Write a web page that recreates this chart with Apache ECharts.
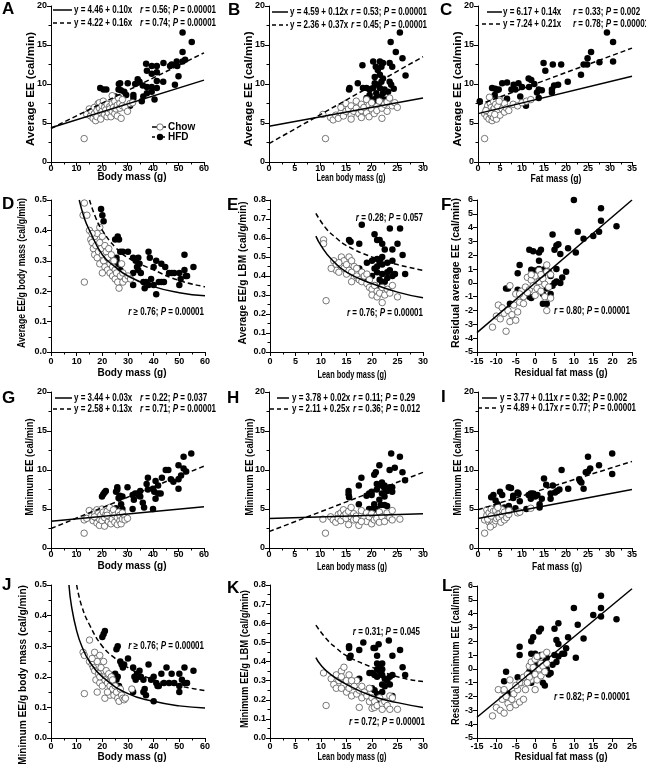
<!DOCTYPE html>
<html>
<head>
<meta charset="utf-8">
<script src="https://cdn.jsdelivr.net/npm/echarts@6/dist/echarts.min.js"></script>
<style>
  html, body { margin: 0; padding: 0; background: #fff; }
  #chart { width: 646px; height: 764px; }
</style>
</head>
<body>
<div id="chart"></div>
<script>
// ---- data: [x, y] pairs ----
// A: body mass vs average EE
const chowA = [[14,6.1],[15,6.8],[15.5,5.9],[16,6.5],[16.5,5.6],[17,7.0],[17,6.2],[17.5,5.3],[18,6.6],[18,5.8],[18.5,7.5],[19,7.6],[19,6.9],[19.5,6.3],[19.5,5.5],[20,7.2],[20,6.5],[20.5,7.8],[21,6.1],[21,7.0],[21.5,6.7],[22,7.4],[22,5.8],[22.5,6.3],[23,7.1],[23,6.8],[23.5,5.8],[24,7.5],[24,6.5],[24.5,7.0],[25,6.2],[25,7.8],[25.5,6.8],[26,5.9],[26,7.3],[26.5,8.2],[27,7.5],[27,6.9],[27.5,5.6],[28,7.2],[28,8.0],[29,7.0],[30,6.5],[31,7.5],[32,7.6],[24,8.5],[13,3.0]]
const hfdA = [[19.3,9.5],[20.6,9.3],[21.7,9.3],[26.5,9.3],[27.1,10.1],[26.6,10.0],[30.1,10.1],[33,10.0],[34,10.6],[34.7,10.3],[36,9.8],[37.6,9.6],[39.5,9.6],[41.5,10.4],[44,10.3],[39.5,11.3],[41.5,11.5],[37.6,11.7],[39.5,12.3],[41.5,12.3],[44.1,12.7],[46.7,12.3],[47.3,12.5],[49.3,12.9],[49.5,12.3],[51.6,12.9],[52.6,13.1],[50,11.0],[25.2,8.4],[26.5,8.3],[27.4,9.2],[25.6,8.0],[26.1,7.8],[25.2,7.5],[31,7.2],[32.3,8.2],[35.6,7.8],[36.2,8.4],[37.6,8.8],[39.5,9.0],[41.5,9.5],[40.6,8.0],[32.3,8.6],[29.5,8.6],[28.7,9.0],[48.6,9.9],[51.6,16.6],[55.2,15.4],[51.6,14.1],[37.3,12.6]]
const solidA = [[0,4.4],[60,10.5]]
const dashA = [[0,4.3],[60,14.0]]

// B: lean body mass vs average EE
const chowB = [[10.5,6.1],[12,5.7],[12.5,5.4],[13,6.0],[13.5,5.6],[14,6.3],[14,7.0],[14.5,5.9],[15,6.5],[15,7.5],[15.5,6.8],[16,6.0],[16,7.2],[16.5,6.5],[17,7.8],[17,6.9],[17.5,6.2],[18,7.4],[18,6.6],[18.5,7.0],[19,8.0],[19,6.3],[19.5,7.3],[19.5,5.8],[20,6.8],[20,7.6],[20.5,6.2],[21,7.1],[21,6.6],[21.5,7.8],[22,5.6],[22,6.9],[22.5,7.4],[23,7.7],[23,6.5],[23.5,8.2],[24,7.2],[24.5,7.6],[25,7.0],[16,5.5],[18,5.7],[11,3.0]]
const hfdB = [[25.5,16.6],[23.7,15.4],[24.7,14.1],[26,13.3],[26.6,11.1],[18.2,12.4],[20.3,12.9],[21.6,12.9],[22.2,12.7],[20.8,12.2],[21.2,11.8],[21.9,12.2],[23.5,12.7],[24,12.2],[20.6,10.9],[21.6,11.2],[22.2,10.7],[20.6,10.1],[21.2,9.9],[21.9,10.3],[23.5,10.3],[23.8,9.9],[17.3,10.1],[15.7,9.5],[15.6,9.3],[19,9.5],[20.3,9.5],[21.6,9.5],[22.5,9.3],[19.6,8.6],[20.9,8.8],[22.2,8.8],[23.2,9.0],[20.9,8.2],[21.9,8.4],[20.3,8.0],[19,8.2],[19.9,7.2],[18.3,9.5],[19.6,9.3],[22.9,8.0],[21.2,7.5],[24.3,9.4]]
const solidB = [[0,4.59],[30,8.2]]
const dashB = [[0,2.36],[30,13.5]]

// C: fat mass vs average EE
const chowC = [[1.5,6.2],[2,6.8],[2,5.8],[2.2,7.2],[2.5,6.4],[2.5,5.5],[2.8,7.5],[3,6.0],[3,7.0],[3.2,5.3],[3.3,6.6],[3.5,7.8],[3.5,5.7],[3.7,6.9],[4,6.2],[4,7.4],[4.2,5.5],[4.5,6.5],[4.5,7.1],[5,6.0],[5,8.0],[5.5,6.8],[6,7.5],[6,6.4],[6.5,6.9],[7,6.6],[8,7.4],[9,7.2],[10,7.6],[11,7.8],[12,8.0],[2.8,6.3],[3.8,6.1],[1.8,6.6],[2.6,8.3],[4.8,7.8],[1.5,3.0]]
const hfdC = [[29.3,16.6],[30.7,15.4],[30.7,12.9],[27.6,12.8],[25.7,14.1],[24.9,13.3],[24,12.5],[24.8,12.5],[23.4,11.2],[20.4,10.3],[18.9,12.5],[17,12.5],[17.3,9.8],[18.2,9.9],[16.8,9.3],[16.8,8.9],[14.9,12.7],[15.3,11.7],[14.5,9.2],[13.8,9.3],[13.8,8.2],[13.4,8.9],[11.5,10.7],[12.1,10.5],[11.6,9.6],[10.9,7.2],[8.1,9.9],[8.5,9.3],[7.6,9.3],[9.6,8.4],[9.2,10.1],[6.6,10.2],[5.5,10.1],[6.6,8.1],[3.2,9.5],[3.9,9.4],[4.3,9.2],[4.7,9.3],[3.8,8.6],[3.2,8.0],[4.3,8.0],[0.4,7.8],[10,9.6],[12.8,10.0]]
const solidC = [[0,6.2],[35,11.0]]
const dashC = [[0,7.3],[35,14.6]]

// D: body mass vs average EE per g body mass
const chowD = [[13,0.49],[12.5,0.45],[14,0.45],[13,0.23],[15,0.40],[15.5,0.37],[16,0.36],[16.5,0.34],[17,0.38],[17,0.32],[17.5,0.35],[18,0.39],[18,0.31],[18.5,0.33],[19,0.41],[19,0.36],[19,0.29],[19.5,0.34],[20,0.32],[20,0.38],[20.5,0.30],[21,0.35],[21,0.28],[21.5,0.33],[22,0.31],[22,0.27],[22.5,0.34],[23,0.29],[23,0.26],[23.5,0.32],[24,0.28],[24,0.25],[24.5,0.30],[25,0.27],[25,0.24],[25.5,0.26],[26,0.23],[26.5,0.21],[27,0.25],[27.5,0.29],[28,0.26],[28,0.23],[29,0.24],[30,0.25],[31,0.24],[16,0.39],[20,0.26]]
const hfdD = [[19.5,0.47],[20,0.45],[20.5,0.43],[26,0.38],[26.5,0.37],[25,0.37],[27,0.33],[28,0.33],[30,0.33],[25.5,0.31],[25.5,0.30],[26,0.29],[27,0.27],[32,0.31],[33,0.30],[34,0.31],[34.5,0.29],[33.5,0.28],[34,0.27],[35,0.26],[32,0.26],[32,0.22],[36.5,0.21],[37,0.23],[38,0.33],[38.5,0.31],[40,0.28],[41,0.30],[43,0.29],[44.5,0.28],[46,0.26],[47,0.26],[48,0.26],[50,0.26],[50,0.22],[50.5,0.24],[52,0.32],[52,0.27],[52.5,0.25],[53,0.25],[55.5,0.28],[40,0.22],[41,0.19],[42,0.23],[43,0.23],[44,0.23],[39,0.24],[38,0.22],[36,0.23]]
const solidD = [[11,0.50],[13,0.44],[15,0.40],[20,0.32],[25,0.28],[30,0.25],[40,0.215],[50,0.195],[60,0.185]]
const dashD = [[15,0.50],[17.5,0.44],[20,0.40],[25,0.345],[30,0.31],[40,0.27],[50,0.235],[60,0.215]]

// E: lean body mass vs average EE per g LBM
const chowE = [[10.5,0.59],[10.5,0.57],[11,0.27],[12.5,0.48],[13,0.46],[13,0.43],[13.5,0.42],[14,0.50],[14,0.45],[14.5,0.44],[14.5,0.48],[15,0.41],[15,0.46],[15.5,0.50],[15.5,0.43],[16,0.42],[16,0.48],[16.5,0.39],[16.5,0.45],[17,0.44],[17,0.40],[17.5,0.38],[18,0.42],[18,0.37],[18.5,0.40],[19,0.36],[19,0.41],[19.5,0.34],[19.5,0.38],[20,0.33],[20,0.30],[20.5,0.35],[21,0.32],[21,0.29],[21.5,0.31],[22,0.34],[22,0.26],[22.5,0.30],[23,0.33],[23.5,0.31],[24,0.35],[25,0.29],[12,0.44],[16,0.37],[13.5,0.47]]
const hfdE = [[18,0.67],[15.5,0.59],[15.8,0.58],[17.5,0.57],[20.5,0.62],[21,0.59],[21.5,0.59],[22,0.57],[23.5,0.65],[25.5,0.65],[24,0.54],[22.5,0.54],[25,0.57],[26,0.51],[20,0.48],[21,0.49],[22,0.50],[21,0.45],[20.5,0.44],[22,0.46],[23,0.47],[24,0.48],[20,0.40],[21,0.42],[22,0.41],[21.5,0.38],[22.5,0.37],[23,0.42],[23.5,0.43],[24,0.40],[20.5,0.35],[21,0.34],[22,0.36],[26.5,0.41],[17.5,0.44],[18.5,0.38],[23,0.39],[24.5,0.41],[19,0.47],[21.5,0.47]]
const solidE = [[9,0.61],[10,0.56],[12,0.49],[15,0.42],[20,0.36],[25,0.315],[30,0.285]]
const dashE = [[9,0.73],[11,0.65],[13,0.60],[15,0.56],[20,0.50],[25,0.46],[30,0.43]]

// F: residual fat mass vs residual average EE
const chowF = [[-11,-3.2],[-10,-2.4],[-9.5,-1.6],[-9,-2.6],[-8.5,-1.8],[-8,-2.2],[-7.5,-3.5],[-7,-2.0],[-6.5,-2.8],[-6,-2.3],[-5.5,-1.6],[-5,-2.7],[-4.5,-2.1],[-4,-1.4],[-5,-0.8],[-3.5,-0.6],[-3,-1.0],[-2.5,-0.3],[-2,0.4],[-1.5,-0.5],[-1,0.2],[-0.5,-0.2],[0,0.5],[0.5,-0.4],[1,0.1],[1,0.9],[1.5,-0.6],[2,0.3],[2.5,-0.1],[3,0.8],[3,1.3],[3.5,-0.3],[4,0.6],[2.5,-1.0],[-6.5,-0.2],[-4,-0.8],[-2,-0.7],[0,-0.9],[1.5,0.6],[3,-2.0],[-1,0.6],[4,-1.1],[-3,-1.5]]
const hfdF = [[10,6.0],[17,5.4],[17,4.5],[21,4.1],[11,3.7],[16.5,3.7],[15,3.4],[12.5,3.2],[4.5,3.5],[6,2.8],[5.5,2.7],[5,2.4],[6.5,2.1],[8.5,2.5],[10.5,2.2],[-1.5,2.4],[-0.5,2.3],[1,2.2],[1.5,2.4],[1,1.6],[-4,1.3],[-1,0.95],[0,0.9],[1,1.0],[2,0.6],[2.5,1.0],[3.5,0.8],[4,0.5],[8,0.8],[-4.5,0.7],[-7.5,-0.4],[-7,-0.4],[-4.5,-0.5],[-1.5,-1.0],[-1,-1.1],[2,-0.8],[3,-0.4],[4,-0.8],[4.5,-0.2],[5.5,0.1],[5,0],[7,0.4],[6.5,0],[2,-1.5],[3,-1.5],[-6.5,-1.5],[1.5,0.2],[5.5,1.0]]
const solidF = [[-15,-3.6],[25,6.0]]

// G: body mass vs minimum EE
const chowG = [[13,1.9],[13,3.6],[14,3.8],[15,4.8],[16,4.1],[16.5,3.5],[17,4.6],[17.5,3.9],[18,3.2],[18,4.9],[18.5,4.4],[19,3.7],[19,2.9],[19.5,4.2],[20,5.0],[20,3.5],[20.5,4.6],[21,2.8],[21,3.9],[21.5,4.3],[22,4.7],[22.5,3.4],[23,4.0],[23,5.2],[23.5,3.1],[24,4.5],[24,3.7],[24.5,4.9],[25,3.3],[25,4.2],[26,3.9],[26,3.0],[26.5,4.6],[27,3.5],[27,4.2],[27.5,3.1],[28,4.5],[28,3.7],[29,4.0],[29,3.6],[30,3.8],[17,4.0],[22,4.2]]
const hfdG = [[20,6.6],[20.5,6.9],[21,7.1],[21.5,7.3],[26,7.8],[26,7.5],[25.5,7.2],[26.5,6.4],[27,6.7],[28,6.6],[27.5,5.6],[28,5.0],[25.5,5.1],[26,4.3],[30,7.8],[32,6.8],[32.5,6.2],[33,7.0],[34,7.0],[34.5,6.7],[35,6.6],[35,7.3],[36,5.8],[36.5,5.2],[37.5,8.2],[38,9.0],[40,7.6],[40.5,7.2],[41,6.3],[41,8.6],[42,8.0],[43,7.0],[43.5,9.0],[45,10.0],[46,10.0],[47,8.8],[48,8.5],[50,10.6],[50,8.8],[50,7.6],[51,9.3],[52,11.7],[52,10.2],[53,9.8],[55,12.1],[40,5.0],[32,5.0],[38,7.5],[42,7.0]]
const solidG = [[0,3.44],[60,5.3]]
const dashG = [[0,2.5],[60,10.5]]

// H: lean body mass vs minimum EE
const chowH = [[10.5,3.7],[11,1.9],[12,4.0],[12.5,3.6],[13,3.3],[13.5,4.3],[13.5,3.8],[14,4.5],[14,3.5],[14.5,4.1],[14.5,4.9],[15,3.8],[15,4.4],[15.5,3.0],[15.5,4.7],[16,4.0],[16,5.2],[16.5,3.6],[16.5,4.4],[17,4.1],[17,3.7],[17.5,2.9],[18,4.2],[18,4.8],[18.5,3.9],[19,4.5],[19,3.4],[19.5,4.0],[20,3.1],[20,4.4],[20.5,3.6],[21,4.2],[21,3.8],[21.5,4.6],[21.5,3.3],[22,4.0],[22.5,3.4],[23,4.5],[23.5,3.9],[24,3.6],[24,4.8],[25.5,3.7],[18,3.4]]
const hfdH = [[15.5,7.3],[15.5,6.9],[15.6,6.5],[17.5,8.0],[18,9.0],[17.5,5.6],[19,6.7],[19.5,7.0],[20,5.0],[20,6.8],[20.5,9.4],[20.8,9.7],[21,8.2],[21,7.5],[21.5,10.6],[21.5,8.0],[21.5,6.2],[21.8,5.5],[22,8.4],[22,7.0],[22.5,8.0],[22.5,7.7],[22.5,6.6],[23,7.3],[23,5.4],[23.5,7.8],[23.5,10.0],[23.8,12.1],[24,7.2],[24,7.8],[24.5,10.3],[25.5,11.7],[26,9.7],[26.5,8.7],[20.5,5.6],[21,5.0],[21.5,4.3],[22.5,5.5],[19.5,5.0],[20,7.2]]
const solidH = [[0,3.78],[30,4.38]]
const dashH = [[0,2.1],[30,9.7]]

// I: fat mass vs minimum EE
const chowI = [[1.5,1.9],[1.5,3.6],[2,4.2],[2,4.9],[2.5,3.3],[2.5,4.5],[2.8,3.9],[3,2.9],[3,5.0],[3.2,3.5],[3.5,4.7],[3.5,3.0],[3.8,4.1],[4,3.5],[4,4.8],[4.2,3.8],[4.5,4.3],[4.8,3.9],[5,4.5],[5,5.1],[5.2,3.3],[5.5,4.9],[5.5,4.2],[6,4.6],[6,3.6],[6.5,3.9],[7,4.3],[7,4.8],[9,4.5],[9.5,4.6],[12,5.1],[2.2,3.7],[3,4.1],[4.5,5.2],[2.8,2.7]]
const hfdI = [[3,6.5],[3.5,6.8],[3.5,4.3],[4,5.1],[4,6.1],[4.5,5.6],[5,7.2],[5.5,6.8],[7,7.8],[7.5,7.7],[6,5.2],[7,5.4],[8,6.4],[8,6.7],[8.5,5.1],[9,7.1],[9.5,6.0],[9.2,7.0],[11,5.0],[11.5,6.8],[12,6.3],[12.5,7.0],[13,6.6],[13.5,6.8],[14,5.6],[14,5.2],[14.5,6.3],[15,8.9],[15.5,8.1],[16.5,6.3],[16.5,7.0],[17,8.0],[17.5,7.1],[18,7.3],[18.5,7.5],[19,10.0],[20.5,7.6],[23,8.8],[23.5,8.4],[24,7.6],[24.5,9.7],[25,9.8],[25,11.7],[25.5,10.2],[27.5,10.6],[30.5,12.1],[30.5,9.5],[23.2,8.6],[12,7.0]]
const solidI = [[0,3.77],[35,7.5]]
const dashI = [[0,4.9],[35,11.1]]

// J: body mass vs minimum EE per g body mass
const chowJ = [[12.5,0.28],[13,0.27],[13,0.145],[15,0.32],[15,0.25],[16,0.24],[16.5,0.23],[17,0.28],[17,0.22],[17.5,0.26],[17.5,0.19],[18,0.25],[18,0.15],[18.5,0.21],[19,0.27],[19,0.18],[19.5,0.23],[20,0.20],[20,0.17],[20.5,0.25],[21,0.19],[21,0.13],[21.5,0.22],[22,0.18],[22.5,0.21],[23,0.17],[23,0.14],[23.5,0.20],[24,0.16],[24,0.19],[24.5,0.14],[25,0.17],[25.5,0.15],[26,0.13],[26.5,0.12],[27,0.16],[27.5,0.14],[28,0.13],[28.5,0.125],[29,0.13],[31.5,0.16],[16,0.26],[19,0.20],[22,0.15]]
const hfdJ = [[20,0.33],[20.5,0.34],[21,0.35],[25.5,0.29],[26,0.30],[25,0.21],[26,0.20],[26.5,0.17],[27,0.25],[27.5,0.24],[28,0.23],[28.5,0.24],[30,0.26],[32,0.23],[32.5,0.20],[33,0.19],[33.5,0.21],[34,0.20],[34.5,0.22],[35,0.20],[36,0.19],[36,0.15],[36.5,0.16],[37,0.14],[38,0.24],[39,0.19],[40,0.20],[40,0.12],[41,0.18],[41.5,0.17],[42,0.17],[43,0.21],[44,0.18],[45,0.23],[46,0.18],[47,0.21],[48,0.18],[50,0.21],[50,0.17],[50,0.15],[51,0.19],[52,0.23],[52,0.18],[53,0.18],[55.5,0.22],[25.5,0.19],[32,0.15]]
const solidJ = [[7,0.50],[8,0.43],[10,0.35],[12,0.30],[15,0.25],[20,0.20],[30,0.145],[40,0.12],[50,0.105],[60,0.098]]
const dashJ = [[10,0.50],[12,0.43],[15,0.37],[20,0.30],[25,0.26],[30,0.23],[40,0.19],[50,0.17],[60,0.155]]

// K: lean body mass vs minimum EE per g LBM
const chowK = [[10.5,0.34],[11,0.17],[12,0.31],[12.5,0.28],[13,0.26],[13,0.33],[13.5,0.30],[14,0.35],[14,0.32],[14.5,0.37],[14.5,0.28],[15,0.30],[15,0.24],[15.5,0.33],[15.5,0.26],[16,0.29],[16,0.22],[16.5,0.27],[17,0.30],[17,0.23],[17.5,0.25],[17.5,0.16],[18,0.27],[18,0.21],[18.5,0.24],[19,0.22],[19.5,0.26],[19.5,0.19],[20,0.155],[20,0.21],[20.5,0.19],[20.5,0.16],[21,0.17],[21.5,0.21],[22,0.18],[22,0.15],[22.5,0.19],[23,0.17],[23.5,0.22],[23.5,0.15],[24,0.21],[25,0.15],[14,0.26],[16,0.30]]
const hfdK = [[15.5,0.47],[15.5,0.48],[15.8,0.43],[15.6,0.42],[17.5,0.31],[17.5,0.46],[18.3,0.50],[20.3,0.47],[20.6,0.47],[21.3,0.49],[23.3,0.51],[24,0.43],[25.5,0.46],[26,0.37],[26.5,0.33],[21,0.43],[21,0.39],[21.5,0.37],[22,0.39],[22,0.36],[20,0.34],[20.5,0.33],[21,0.32],[21.5,0.35],[22,0.33],[22.5,0.31],[20,0.26],[20.5,0.25],[21,0.23],[21.5,0.20],[22,0.28],[22.5,0.27],[23,0.30],[23.5,0.32],[23.5,0.28],[24,0.33],[24,0.22],[19.5,0.34],[21,0.36],[22,0.24]]
const solidK = [[9,0.42],[10,0.38],[12,0.33],[15,0.28],[20,0.22],[25,0.185],[30,0.16]]
const dashK = [[9,0.59],[11,0.52],[13,0.47],[15,0.43],[20,0.37],[25,0.32],[30,0.295]]

// L: residual fat mass vs residual minimum EE
const chowL = [[-11,-3.4],[-10,-2.8],[-9.5,-1.5],[-9,-3.0],[-8.5,-2.2],[-8,-1.6],[-8,-3.2],[-7.5,-2.0],[-7,-2.5],[-6.5,-2.8],[-6,-2.2],[-5.5,-1.8],[-5,-2.6],[-4.5,-1.5],[-4,-2.4],[-3.5,-1.0],[-3,-2.2],[-3,-0.6],[-2.5,-1.5],[-2,-0.4],[-1.5,0.2],[-1,-0.8],[-1,0.5],[-0.5,0.1],[0,0.7],[0,-0.4],[0.5,-0.8],[0.5,0.9],[1,0],[1.5,0.4],[1.5,-0.5],[2,0.2],[2,1.0],[2.5,-0.2],[3,1.2],[3,0.4],[-6.5,-0.8],[-4,-1.0],[-5,-1.2],[-1.5,-0.6],[0,-1.5],[-2,-1.0],[-8,-1.5]]
const hfdL = [[17,5.3],[17,4.4],[17,3.8],[15,3.9],[21,3.6],[11,3.2],[12.5,2.2],[10,4.4],[8.5,2.3],[10.5,0.8],[6,3.3],[5,2.9],[5.5,2.1],[6,1.8],[8,1.5],[-0.5,2.3],[1,2.7],[1.5,2.9],[-1,2.0],[-4,1.6],[-4,1.0],[-1,1.1],[0,1.1],[1,0.9],[1.5,1.0],[3,0.8],[2.5,0.5],[5,1.0],[6,0.9],[7,1.1],[7.5,1.1],[5.5,0.5],[4.5,0.3],[4,-0.3],[3.5,-0.4],[2,-1.0],[2.5,-1.2],[0.5,0.3],[-1,-1.0],[-1.5,-0.2],[-7.5,-0.2],[-8,-0.9],[-7,-1.8],[-4.5,-0.6],[3,0]]
const solidL = [[-15,-3.5],[25,5.8]]

// ---- layout ----
const FONT = '"Liberation Sans", Arial, sans-serif'
const BM = 'Body mass (g)', LBM = 'Lean body mass (g)', FM = 'Fat mass (g)', RFM = 'Residual fat mass (g)'

// xN / yN: [centre x, centre y, drawn length] of the axis titles (panels were scaled unevenly in the figure)
const panels = [
  { box: [51, 6, 153, 156], x: [0, 60, 10], y: [0, 20, 5], xMargin: 2, xName: BM, xN: [132, 177, 69], yName: 'Average EE (cal/min)', yN: [31, 89, 114], chow: chowA, hfd: hfdA, solid: solidA, dash: dashA },
  { box: [269, 6, 154, 156], x: [0, 30, 5], y: [0, 20, 5], xMargin: 2, xName: LBM, xN: [351, 178, 69], yName: 'Average EE (cal/min)', yN: [249, 89, 115], chow: chowB, hfd: hfdB, solid: solidB, dash: dashB },
  { box: [478, 6, 154, 156], x: [0, 35, 5], y: [0, 20, 5], xMargin: 2, xName: FM, xN: [556, 179, 51], yName: 'Average EE (cal/min)', yN: [458, 89, 115], chow: chowC, hfd: hfdC, solid: solidC, dash: dashC },
  { box: [51, 200, 154, 152], x: [0, 60, 10], y: [0, 0.5, 0.1], dec: 1, xMargin: 5, xName: BM, xN: [132, 373, 69], yName: 'Average EE/g body mass (cal/g/min)', yN: [22, 273, 150], chow: chowD, hfd: hfdD, solid: solidD, dash: dashD, smooth: true },
  { box: [270, 200, 153, 152], x: [0, 30, 5], y: [0, 0.8, 0.1], dec: 1, xMargin: 5, xName: LBM, xN: [352, 375, 69], yName: 'Average EE/g LBM (cal/g/min)', yN: [243, 273, 143], chow: chowE, hfd: hfdE, solid: solidE, dash: dashE, smooth: true },
  { box: [477, 200, 155, 152], x: [-15, 25, 5], y: [-5, 6, 1], noMinor: true, xMargin: 5, xName: RFM, xN: [561, 373, 93], yName: 'Residual average EE (cal/min)', yN: [456, 273, 150], chow: chowF, hfd: hfdF, solid: solidF },
  { box: [51, 392, 153, 156], x: [0, 60, 10], y: [0, 20, 5], xMargin: 2, xName: BM, xN: [132, 566, 69], yName: 'Minimum EE (cal/min)', yN: [30, 467, 97], chow: chowG, hfd: hfdG, solid: solidG, dash: dashG },
  { box: [269, 392, 154, 156], x: [0, 30, 5], y: [0, 20, 5], xMargin: 2, xName: LBM, xN: [352, 567, 70], yName: 'Minimum EE (cal/min)', yN: [250, 467, 97], chow: chowH, hfd: hfdH, solid: solidH, dash: dashH },
  { box: [478, 392, 154, 156], x: [0, 35, 5], y: [0, 20, 5], xMargin: 2, xName: FM, xN: [557, 567, 50], yName: 'Minimum EE (cal/min)', yN: [458, 467, 97], chow: chowI, hfd: hfdI, solid: solidI, dash: dashI },
  { box: [51, 585, 154, 153], x: [0, 60, 10], y: [0, 0.5, 0.1], dec: 1, xMargin: 4, xName: BM, xN: [132, 757, 69], yName: 'Minimum EE/g body mass (cal/g/min)', yN: [23, 675, 180], chow: chowJ, hfd: hfdJ, solid: solidJ, dash: dashJ, smooth: true },
  { box: [270, 585, 153, 153], x: [0, 30, 5], y: [0, 0.8, 0.1], dec: 1, xMargin: 4, xName: LBM, xN: [352, 757, 69], yName: 'Minimum EE/g LBM (cal/g/min)', yN: [245, 659, 138], chow: chowK, hfd: hfdK, solid: solidK, dash: dashK, smooth: true },
  { box: [477, 586, 155, 152], x: [-15, 25, 5], y: [-5, 6, 1], noMinor: true, xMargin: 4, xName: RFM, xN: [561, 757, 93], yName: 'Residual minimum EE (cal/min)', yN: [456, 655, 140], chow: chowL, hfd: hfdL, solid: solidL }
]

// panel letter positions
const letters = [['A', 2, 1], ['B', 228, 2], ['C', 440, 2], ['D', 2, 196], ['E', 227, 197], ['F', 441, 197],
  ['G', 2, 390], ['H', 227, 390], ['I', 441, 389], ['J', 2, 577], ['K', 227, 580], ['L', 442, 578]]

// regression legends: [lineX1, lineX2, eqX, statX, y, equation, r, P, dashed]
const eqRows = [
  [53, 72, 74, 140, 10, 'y = 4.46 + 0.10x', '0.56', '0.00001', false],
  [53, 72, 74, 140, 23, 'y = 4.22 + 0.16x', '0.74', '0.00001', true],
  [272, 288, 290, 351, 12, 'y = 4.59 + 0.12x', '0.53', '0.00001', false],
  [272, 288, 290, 351, 25, 'y = 2.36 + 0.37x', '0.45', '0.00001', true],
  [487, 502, 503, 573, 12, 'y = 6.17 + 0.14x', '0.33', '0.002', false],
  [482, 502, 503, 573, 24, 'y = 7.24 + 0.21x', '0.78', '0.00001', true],
  [55, 72, 74, 140, 398, 'y = 3.44 + 0.03x', '0.22', '0.037', false],
  [53, 72, 74, 140, 409, 'y = 2.58 + 0.13x', '0.71', '0.00001', true],
  [277, 289, 292, 353, 398, 'y = 3.78 + 0.02x', '0.11', '0.29', false],
  [270, 289, 292, 353, 409, 'y = 2.11 + 0.25x', '0.36', '0.012', true],
  [482, 497, 500, 560, 398, 'y = 3.77 + 0.11x', '0.32', '0.002', false],
  [478, 497, 500, 560, 408, 'y = 4.89 + 0.17x', '0.77', '0.00001', true]
]

// correlation notes: [rightX, y, relation, r, P]
const notes = [
  [204, 312, '≥', '0.76', '0.00001'],
  [423, 218, '=', '0.28', '0.057'],
  [423, 313, '=', '0.76', '0.00001'],
  [630, 311, '=', '0.80', '0.00001'],
  [204, 646, '≥', '0.76', '0.00001'],
  [420, 632, '=', '0.31', '0.045'],
  [425, 722, '=', '0.72', '0.00001'],
  [630, 697, '=', '0.82', '0.00001']
]

// the figure uses a condensed bold face: draw Liberation Sans and squeeze it horizontally
const SQUEEZE = 0.8
const richStyles = {
  n: { fontFamily: FONT, fontWeight: 'bold', fontSize: 10, color: '#000' },
  i: { fontFamily: FONT, fontWeight: 'bold', fontStyle: 'italic', fontSize: 10, color: '#000' }
}
const stat = (rel, r, p) => `{i|r}{n| ${rel} ${r}; }{i|P}{n| = ${p}}`

const NAME_FONT = 'bold 10.5px ' + FONT
const measureCtx = document.createElement('canvas').getContext('2d')
measureCtx.font = NAME_FONT
const textW = s => measureCtx.measureText(s).width

const grids = [], xAxes = [], yAxes = [], series = [], graphics = []

function axisBase (min, max, step, noMinor) {
  return {
    min: min, max: max, interval: step,
    axisLine: { show: true, onZero: false, lineStyle: { color: '#000', width: 1 } },
    axisTick: { show: true, length: 4, lineStyle: { color: '#000', width: 1 } },
    minorTick: { show: !noMinor, splitNumber: 2, length: 2.5, lineStyle: { color: '#000', width: 1 } },
    splitLine: { show: false }
  }
}

panels.forEach((p, i) => {
  grids.push({ left: p.box[0], top: p.box[1], width: p.box[2], height: p.box[3], containLabel: false })
  xAxes.push(Object.assign(axisBase(p.x[0], p.x[1], p.x[2], p.noMinor), {
    type: 'value', gridIndex: i,
    axisLabel: { fontFamily: FONT, fontWeight: 'bold', fontSize: 9, color: '#000', margin: p.xMargin }
  }))
  yAxes.push(Object.assign(axisBase(p.y[0], p.y[1], p.y[2], p.noMinor), {
    type: 'value', gridIndex: i,
    axisLabel: {
      fontFamily: FONT, fontWeight: 'bold', fontSize: 9, color: '#000', margin: 4,
      formatter: v => p.dec ? v.toFixed(p.dec) : String(v)
    }
  }))
  series.push({
    type: 'scatter', xAxisIndex: i, yAxisIndex: i, data: p.hfd, symbol: 'circle', symbolSize: 6.5,
    itemStyle: { color: '#000', opacity: 1 }, z: 3
  })
  series.push({
    type: 'scatter', xAxisIndex: i, yAxisIndex: i, data: p.chow, symbol: 'circle', symbolSize: 6.5,
    itemStyle: { color: '#fff', borderColor: '#555', borderWidth: 0.8, opacity: 1 }, z: 3
  })
  series.push({
    type: 'line', xAxisIndex: i, yAxisIndex: i, data: p.solid, showSymbol: false, smooth: !!p.smooth,
    lineStyle: { color: '#000', width: 1.5 }, z: 4, clip: true
  })
  if (p.dash) {
    series.push({
      type: 'line', xAxisIndex: i, yAxisIndex: i, data: p.dash, showSymbol: false, smooth: !!p.smooth,
      lineStyle: { color: '#000', width: 1.5, type: [5, 3] }, z: 4, clip: true
    })
  }
  // axis titles, stretched to the length they have in the figure
  graphics.push({
    type: 'text', x: p.xN[0], y: p.xN[1], scaleX: p.xN[2] / textW(p.xName),
    style: { text: p.xName, font: NAME_FONT, fill: '#000', align: 'center', verticalAlign: 'middle' }
  })
  graphics.push({
    type: 'text', x: p.yN[0], y: p.yN[1], rotation: Math.PI / 2, scaleX: p.yN[2] / textW(p.yName),
    style: { text: p.yName, font: NAME_FONT, fill: '#000', align: 'center', verticalAlign: 'middle' }
  })
})

letters.forEach(l => {
  graphics.push({ type: 'text', x: l[1], y: l[2], style: { text: l[0], font: 'bold 17px ' + FONT, fill: '#000' } })
})

eqRows.forEach(r => {
  graphics.push({
    type: 'line', shape: { x1: r[0], y1: r[4], x2: r[1], y2: r[4] },
    style: { stroke: '#000', lineWidth: 1.5, lineDash: r[8] ? [4, 3] : null }
  })
  graphics.push({ type: 'text', x: r[2], y: r[4], scaleX: SQUEEZE, style: { text: '{n|' + r[5] + '}', rich: richStyles, verticalAlign: 'middle' } })
  graphics.push({ type: 'text', x: r[3], y: r[4], scaleX: SQUEEZE, style: { text: stat('=', r[6], r[7]), rich: richStyles, verticalAlign: 'middle' } })
})

notes.forEach(n => {
  graphics.push({ type: 'text', x: n[0], y: n[1], scaleX: SQUEEZE, style: { text: stat(n[2], n[3], n[4]), rich: richStyles, align: 'right', verticalAlign: 'middle' } })
})

// symbol legend in panel A
graphics.push({ type: 'line', shape: { x1: 152, y1: 127, x2: 166, y2: 127 }, style: { stroke: '#000', lineWidth: 1.5 } })
graphics.push({ type: 'circle', shape: { cx: 160, cy: 127, r: 3.2 }, style: { fill: '#fff', stroke: '#555', lineWidth: 0.8 } })
graphics.push({ type: 'text', x: 168, y: 127, style: { text: 'Chow', font: 'bold 10px ' + FONT, fill: '#000', verticalAlign: 'middle' } })
graphics.push({ type: 'line', shape: { x1: 152, y1: 137, x2: 167, y2: 137 }, style: { stroke: '#000', lineWidth: 1.5, lineDash: [3, 2] } })
graphics.push({ type: 'circle', shape: { cx: 160, cy: 137, r: 3.2 }, style: { fill: '#000' } })
graphics.push({ type: 'text', x: 168, y: 137, style: { text: 'HFD', font: 'bold 10px ' + FONT, fill: '#000', verticalAlign: 'middle' } })

const chart = echarts.init(document.getElementById('chart'))
chart.setOption({
  animation: false,
  backgroundColor: '#fff',
  grid: grids,
  xAxis: xAxes,
  yAxis: yAxes,
  series: series,
  graphic: graphics
})
</script>
</body>
</html>
